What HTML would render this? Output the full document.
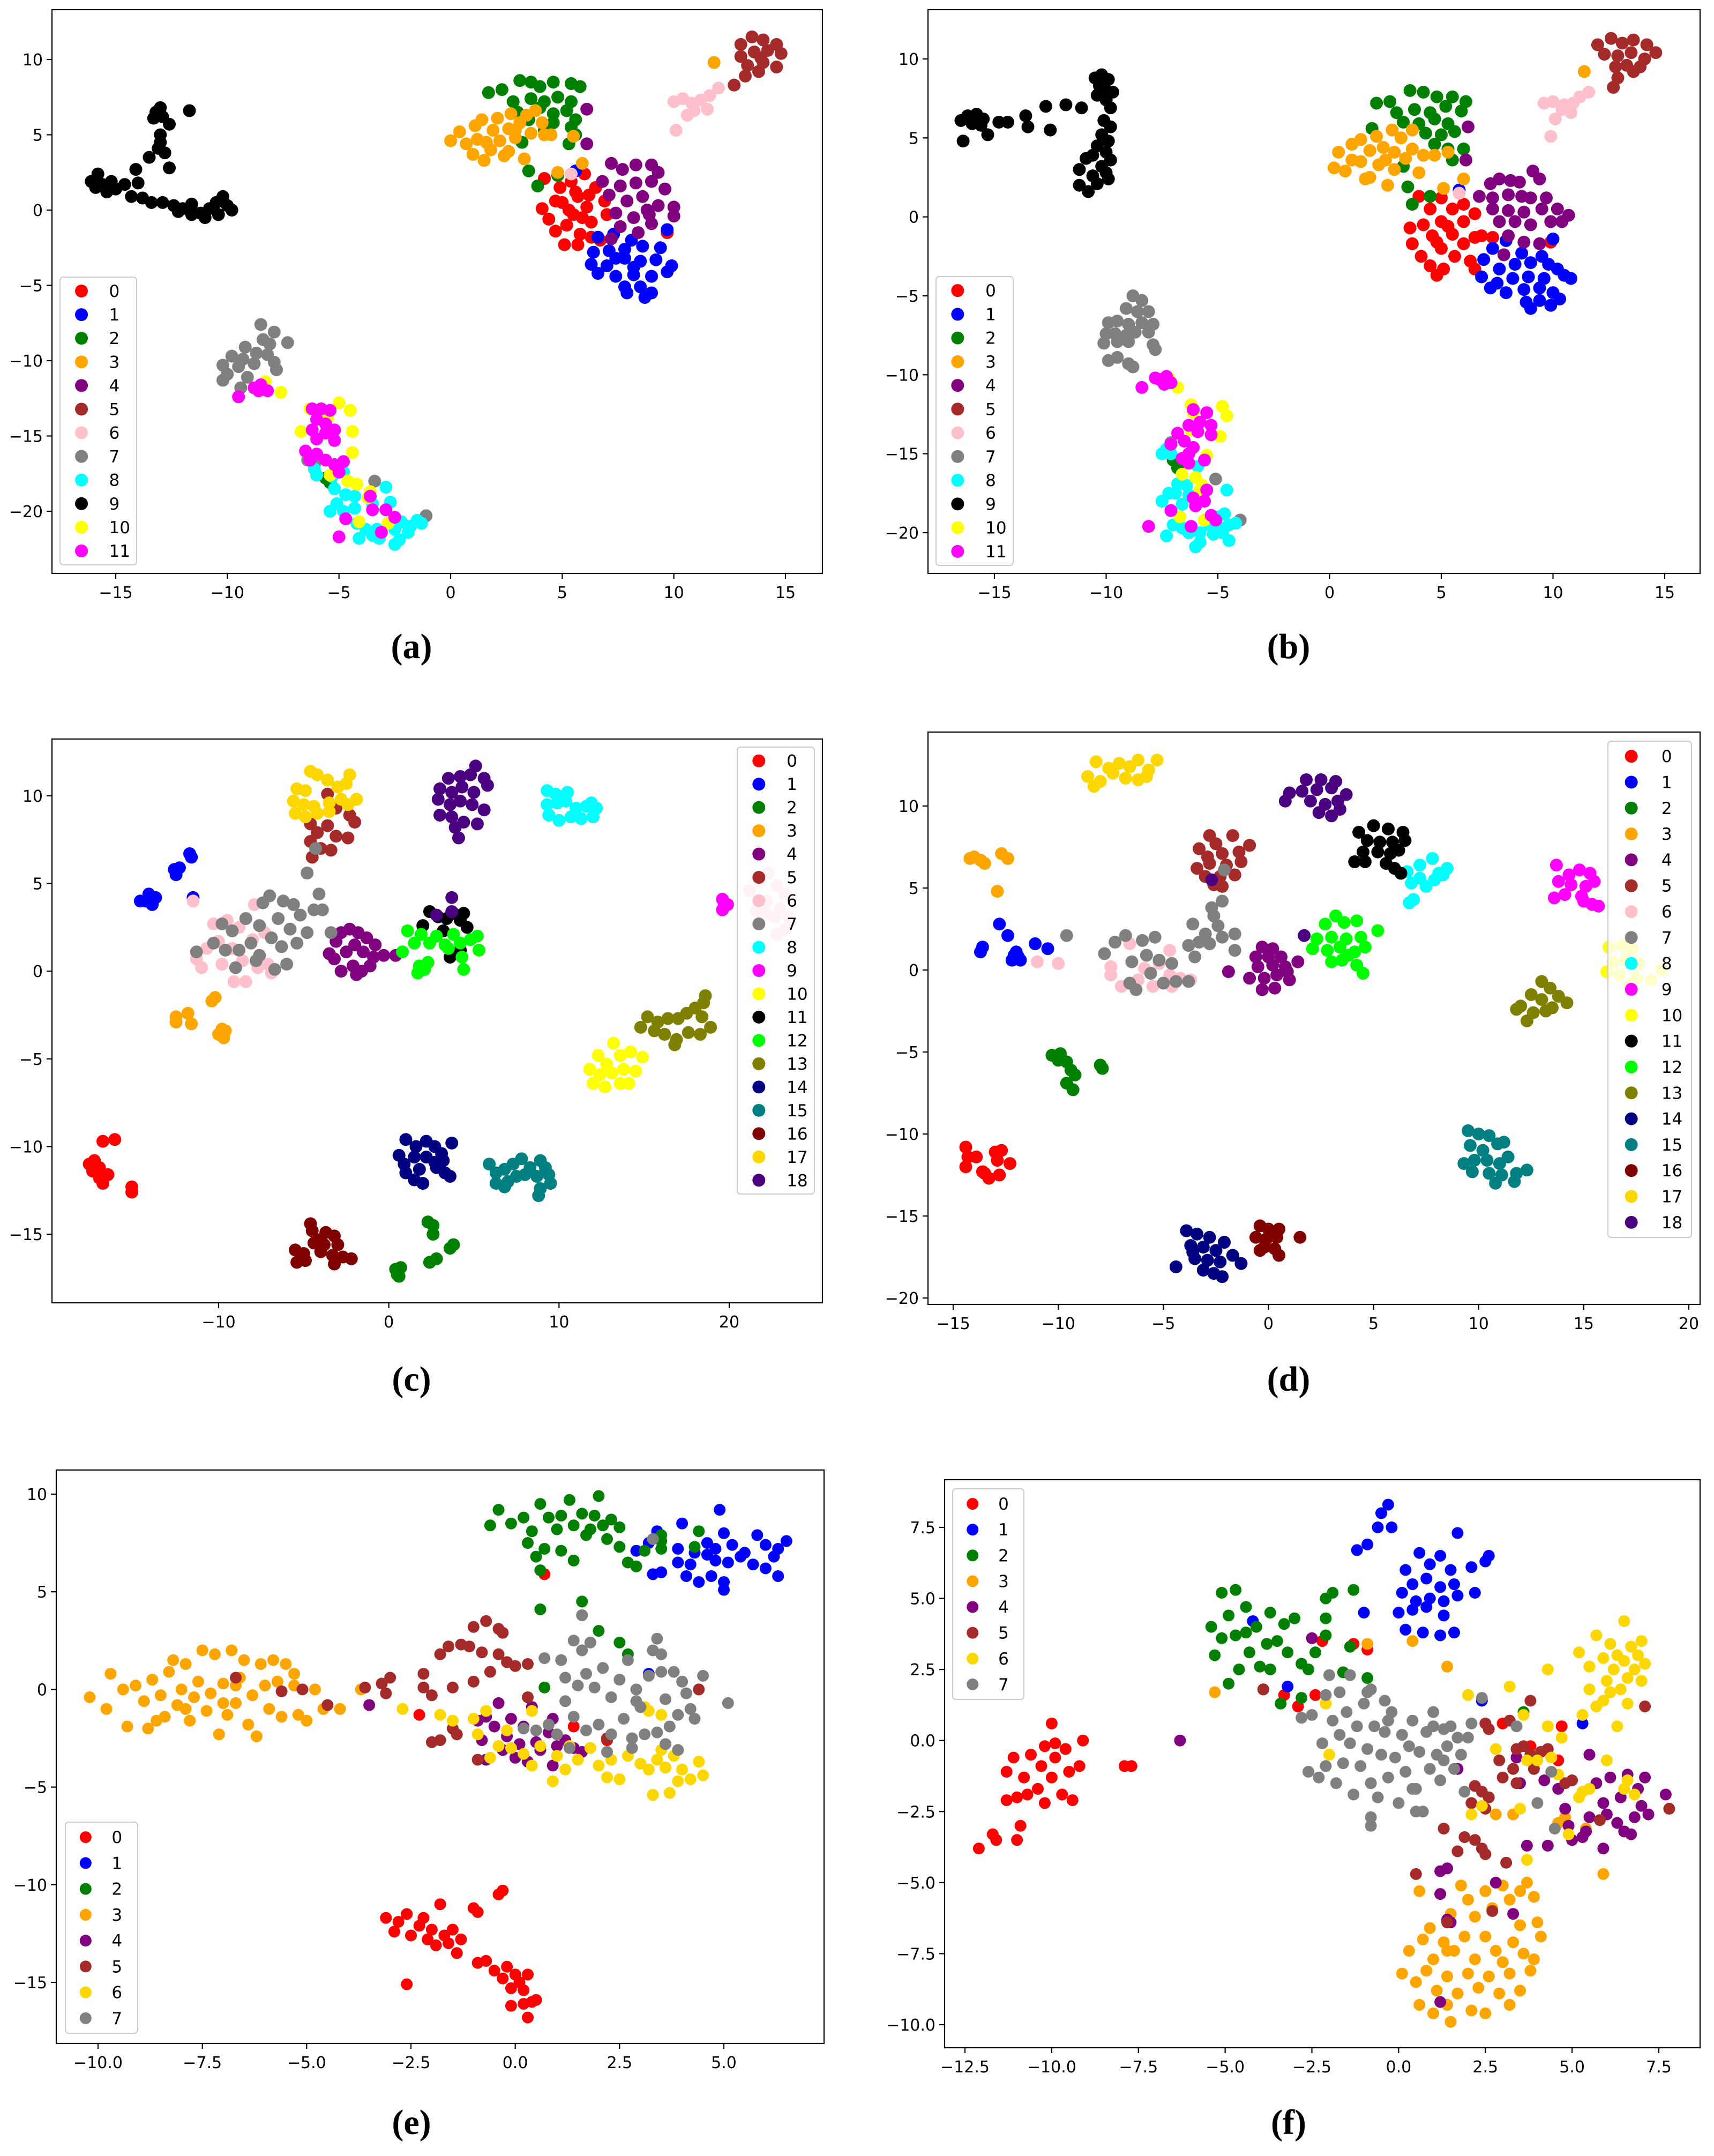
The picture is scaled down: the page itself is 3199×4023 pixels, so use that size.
<!DOCTYPE html>
<html><head><meta charset="utf-8">
<style>
html,body{margin:0;padding:0;background:#fff;}
svg{display:block;}
text{font-family:"DejaVu Sans","Liberation Sans",sans-serif;}
.cap{font-family:"Liberation Serif",serif;font-size:66px;font-weight:bold;}
</style></head>
<body>
<svg id="fig" width="3199" height="4023" viewBox="0 0 3199 4023" xmlns="http://www.w3.org/2000/svg">
<rect width="3199" height="4023" fill="#fff"/>
</svg>
<script>
// ---------- shared class colour arrays ----------
const colors12 = ["red","blue","green","orange","purple","brown","pink","gray","cyan","black","yellow","magenta"];
const colors19 = ["red","blue","green","orange","purple","brown","pink","gray","cyan","magenta","yellow","black","lime","olive","navy","teal","maroon","gold","indigo"];
const colors8 = ["red","blue","green","orange","purple","brown","gold","gray"];

// ---------- tick arrays ----------
const aXTicks=[-15,-10,-5,0,5,10,15], aYTicks=[-20,-15,-10,-5,0,5,10];
const bXTicks=[-15,-10,-5,0,5,10,15], bYTicks=[-20,-15,-10,-5,0,5,10];
const cXTicks=[-10,0,10,20], cYTicks=[-15,-10,-5,0,5,10];
const dXTicks=[-15,-10,-5,0,5,10,15,20], dYTicks=[-20,-15,-10,-5,0,5,10];
const eXTicks=[-10,-7.5,-5,-2.5,0,2.5,5], eYTicks=[-15,-10,-5,0,5,10];
const fXTicks=[-12.5,-10,-7.5,-5,-2.5,0,2.5,5,7.5], fYTicks=[-10,-7.5,-5,-2.5,0,2.5,5,7.5];

// ---------- panel (a) points per class ----------
const aPoints=[
"4.2,2.1 4.1,0.1 4.4,-0.6 4.9,1.5 5,0.5 5.2,-1 5.4,1.9 5.5,-0.3 5.7,0.9 5.8,-1.6 6,2.4 6.1,0.2 6.3,-0.8 6.5,1.5 6.7,-2 6.9,0.6 5.1,-2.3 5.7,-2.3 4.7,-1.4 6.3,-1.8 7,-0.3 9.7,-1.5 5.9,-0.5 5.3,0 5.6,1.2 6.2,1 4.7,0.6",
"6.6,-1.8 7.3,-1.6 8.1,-2 6.4,-2.8 7.1,-2.7 7.8,-2.6 8.6,-2.4 9.4,-2.5 6.3,-3.6 7,-3.7 7.8,-3.2 8.5,-3.4 9.2,-3.3 9.9,-3.7 6.6,-4.2 7.4,-4.4 8.2,-4.3 9,-4.4 9.7,-4.1 7.8,-5.1 8.5,-5.1 9,-5.5 8.7,-5.8 7.9,-5.5 9.7,-1.3 5.6,2.6 8.2,-3.8 7.4,-3.2",
"1.7,7.8 2.3,8 3.1,8.6 3.6,8.5 4,8.2 4.6,8.5 5.4,8.4 5.8,8.2 2.8,7.2 3.6,7.4 4.2,7.2 4.8,7.5 5.4,7.2 3,6.5 4,6.8 4.6,6.4 5.2,6.6 5.6,6 3.5,6 4.6,5.8 5.4,5.5 5.6,5 4.2,5.3 3.2,4.5 5.3,4.4 3.5,2.6 3.9,1.6 4.8,2.3 -5.6,-17.8 -5.4,-18.1",
"0,4.6 0.4,5.2 0.7,4.4 1.1,5.6 1.2,4.7 1.5,3.3 1.8,4 1.9,5.3 2.1,6.1 2.2,4.6 2.6,5.4 2.7,6.4 2.9,4.8 3.1,5.8 3.4,6.3 3.6,5.1 3.8,6.6 4.1,5.8 4.2,5 2.4,3.6 1.4,6 2.6,3.9 3.3,3.4 1,3.7 5.5,4.9 4.5,5 5.9,3.1 4.8,2.5 11.8,9.8 1.6,4.5 2.9,5.3",
"7.2,3.1 7.7,2.7 8.3,3 9,3 9.3,2.5 6.8,1.9 7.6,1.6 8.3,1.8 9,1.9 9.6,1.4 7.1,1 7.9,0.6 8.6,0.9 9.3,0.3 10,0.2 10,-0.4 7.4,-0.2 8.2,-0.5 8.9,-0.3 7.6,-1.1 8.4,-1.5 9,-0.9 6.1,6.7 6.1,4.4 7.2,-1.9 8.8,0",
"13,11 13.5,11.5 14,11.3 14.6,11 13,10.2 13.6,10.5 14.2,10.6 14.8,10.4 13.3,9.6 14,9.8 14.6,9.5 13.2,8.9 13.8,9.2 12.7,8.3 13.9,10.1",
"10,7.2 10.4,7.4 10.8,7.1 11.2,7.3 11.6,7.6 10.9,6.6 10.6,6.3 11.5,6.7 10.1,5.3 12,8.1 5.4,2.4",
"-8.5,-7.6 -7.9,-8.1 -8.4,-8.6 -8.1,-8.9 -7.3,-8.8 -9.2,-9.1 -8.7,-9.5 -9.8,-9.7 -9.3,-9.9 -8.2,-9.6 -10.2,-10.3 -9.5,-10.4 -8.8,-10.2 -7.9,-10.1 -7.8,-10.6 -10,-10.9 -9.1,-11.1 -10.2,-11.3 -9.4,-11.8 -6.4,-16.6 -3.4,-18 -1.1,-20.3 -6.1,-16.9",
"-6.1,-17.2 -6,-17.6 -5.3,-17.7 -4.8,-17.4 -5.2,-18.5 -4.7,-18.9 -4.3,-19 -5.1,-19.5 -5.4,-20 -4.8,-20 -4.3,-19.8 -3.5,-19.5 -2.9,-18.4 -2.7,-19.4 -4.2,-20.8 -3.8,-21.2 -3.5,-21.6 -3.3,-21.2 -2.5,-21.2 -2.3,-21.9 -2.2,-20.7 -1.8,-21 -1.5,-20.6 -1.3,-20.8 -4.1,-21.8 -3.2,-21.8 -2.5,-22.2 -1.9,-21.4",
"-13.2,6.5 -13,6.8 -12.9,6.2 -13.3,6.1 -11.7,6.6 -12.6,5.7 -13,5 -13,4.5 -13.1,4.1 -12.8,3.8 -13.5,3.5 -12.6,2.8 -14.1,2.7 -14,1.8 -16.1,1.9 -15.8,2.4 -15.6,1.7 -15.2,1.9 -15,1.4 -14.6,1.7 -15.4,1.2 -14.3,0.9 -13.8,0.8 -13.4,0.5 -12.9,0.5 -12.4,0.3 -12,0.1 -11.6,0.4 -11.2,-0.2 -10.8,0.1 -10.5,0.5 -10.2,0.9 -10,0.3 -9.8,0 -11,-0.5 -11.6,-0.3 -12.2,-0.1 -10.4,-0.3 -15.9,1.5",
"-7.6,-12.1 -8.3,-11.4 -6.7,-14.7 -5,-12.8 -4.5,-13.3 -4.4,-14.7 -4.4,-16.1 -5.4,-17.6 -4.6,-18 -4.2,-18.2 -3.6,-18.7 -3.7,-19.1 -2.8,-20.8 -4.1,-20.7 -6.3,-13.2 -5.5,-13.8",
"-8.8,-11.8 -8.5,-11.6 -8.2,-12 -8.6,-12 -9.5,-12.4 -6.2,-13.2 -5.8,-13.2 -5.4,-13.3 -6,-13.9 -5.6,-14.2 -6.2,-14.6 -5.6,-14.8 -5.2,-14.6 -6,-15.2 -5.2,-15.3 -6.5,-16 -6,-16.2 -5.6,-16.6 -5.2,-16.9 -4.8,-16.7 -6.3,-16.6 -5,-17.4 -3.6,-19 -3.5,-19.9 -2.9,-19.9 -2.5,-20.4 -3.1,-21.4 -4.7,-20.5 -5,-21.7"
];

// ---------- panel (b) ----------
const bPoints=[
"3.6,-0.7 3.7,-1.7 4.2,-0.5 4.1,-2.5 4.5,0.5 4.6,-1.2 4.5,-3.1 5,1.2 5,-0.3 5,-2 5.1,-3.3 5.5,0.5 5.5,-1.1 5.6,-2.5 6,0.8 6,-0.3 6,-1.7 6.3,-2.8 6.5,0.2 6.5,-1.3 6.8,-1.2 4,1.3 6.5,-3.3 9.9,-1.6 7.3,-1.3 4.8,-3.7 5.3,-0.6 4.8,-1.6",
"7.3,-2 7.9,-1.5 8.6,-2.3 9.5,-2.5 6.9,-2.7 7.6,-3.3 8.3,-3 9,-2.9 9.8,-3 10.2,-3.3 6.8,-3.8 7.5,-4.2 8.2,-3.9 8.9,-3.8 9.6,-3.9 10.5,-3.7 10.8,-3.9 7.2,-4.5 7.9,-4.8 8.7,-4.6 9.4,-4.5 10,-4.8 8.8,-5.4 9.4,-5.3 9.9,-5.6 10.3,-5.2 9,-5.8 10,-1.4 5.8,1.7",
"2.1,7.2 2.7,7.3 3.6,8 4.2,7.9 4.8,7.6 5.5,7.6 6.1,7.3 3,6.6 3.8,6.8 4.5,6.6 5.2,7 5.9,6.7 3.3,6 4,5.9 4.7,6.2 5.3,5.9 4.3,5.3 5,5.2 5.6,5.4 4.7,4.6 5.3,4.3 6,4.3 5.5,3.6 3.3,3.2 1.9,5.6 3.5,1.9 3.7,0.8 4.5,1.3 -7,-15.4 -6.8,-15.9",
"0.2,3.1 0.4,4.1 0.7,2.9 1,3.6 1,4.6 1.4,4.9 1.4,3.5 1.8,4.2 1.8,2.5 2.1,5.1 2.2,3.3 2.4,4.4 2.6,2 2.8,5.5 2.9,4.1 2.9,3 3.2,5 3.4,3.7 3.7,5.5 3.7,4.3 4,2.8 4.2,3.9 4.7,3.9 5.3,4.1 6,2.4 5.1,1.8 11.4,9.2 1.6,2.4 2.5,3.6",
"7.2,2.1 7.6,2.4 8.1,2.3 8.5,2.2 9.1,2.9 9.4,2.4 6.7,1.3 7.3,1.2 8,1.4 8.6,1.3 9,1.2 9.7,1.2 7.3,0.5 8,0.4 8.7,0.3 9.5,0.5 10.2,0.5 10.7,0.1 7.6,-0.3 8.3,-0.3 9,-0.5 9.9,-0.3 10.4,-0.3 8,-1.2 8.7,-1.6 9.4,-1.7 7.8,-2.4 6.2,5.7 6.1,3.6",
"12,10.9 12.6,11.3 13.1,11 13.6,11.2 14.2,10.9 14.6,10.4 12.3,10.3 12.9,10.2 13.5,10.4 14.1,10 12.8,9.5 13.3,9.6 13.9,9.5 12.9,8.8 13.6,9.2 12.7,8.2",
"9.6,7.2 10,7.3 10.5,7.1 10.9,7.2 11.2,7.6 10.4,6.8 10.8,6.6 10.1,6.2 11.6,7.9 9.9,5.1 5.8,1.5",
"-8.8,-5 -8.4,-5.3 -9.1,-5.8 -8.6,-6 -8.1,-6 -9.9,-6.7 -9.5,-6.6 -9,-6.8 -8.4,-6.7 -7.9,-6.8 -10,-7.4 -9.6,-7.4 -9.1,-7.5 -8.7,-7.3 -8.1,-7.3 -10.1,-8 -9.5,-7.9 -9,-7.9 -7.9,-8.1 -7.8,-8.4 -9.9,-9.1 -9.5,-8.9 -9,-9.3 -8.8,-9.5 -7.1,-14.3 -5.1,-16.6 -4,-19.2",
"-7.3,-14.7 -7.1,-15 -6.8,-16.9 -6.4,-17 -6.9,-17.5 -6.3,-17.6 -7.2,-17.5 -7.5,-18 -7.1,-18.6 -6.6,-18.2 -7,-19.5 -6.6,-19.7 -6.3,-20 -5.8,-20 -5.4,-19.5 -5,-19 -4.7,-18.8 -4.5,-19.5 -4.9,-19.7 -5.2,-20.1 -4.5,-20.5 -4.8,-20 -4.2,-19.4 -6,-20.9 -5.8,-20.6 -7.3,-20.2 -4.6,-17.3 -5.9,-15.8 -7.5,-15",
"-16.5,6.1 -16.2,6.4 -15.8,6.5 -15.5,6.2 -16,5.9 -15.6,5.8 -16.4,4.8 -15.3,5.2 -14.8,6 -14.4,6 -13.6,6.4 -13.5,5.7 -12.7,7 -12.5,5.5 -11.8,7.1 -11.1,6.9 -10.5,8.8 -10.2,9 -9.9,8.7 -10.3,8.3 -10,8 -9.7,7.9 -10.4,7.7 -10,7.4 -9.8,6.9 -10.1,6.1 -9.8,5.7 -10.2,5.2 -9.9,4.8 -10.4,4.5 -10,4.1 -9.8,3.6 -10.6,3.9 -10.9,3.7 -10.2,3.2 -11.2,3 -10.6,2.6 -10,2.8 -11.2,2 -10.8,1.6 -10.4,2.1 -9.9,2.4",
"-7.2,-10.2 -6.8,-10.8 -6.2,-11.9 -6.1,-12.4 -4.8,-12 -4.6,-12.6 -4.9,-13.9 -5.5,-15.1 -6.6,-16.3 -6,-16.5 -5.8,-17.3 -5.7,-17 -6.7,-19 -5.6,-19.2 -6.2,-13.5",
"-8.4,-10.8 -7.6,-10.3 -7.3,-10.1 -7.1,-10.5 -7.4,-10.6 -7.8,-10.2 -6.1,-12.2 -5.5,-12.4 -5.8,-13 -5.3,-13.2 -6.3,-13.2 -5.9,-13.6 -5.3,-13.8 -6.8,-13.7 -6.5,-14.2 -7.1,-14.4 -6.1,-14.6 -6.3,-15 -6.6,-15.3 -6.3,-15.6 -5.6,-15.4 -6.1,-17.8 -6,-18.3 -5.5,-17.3 -7.1,-18.6 -5.3,-18.9 -5.1,-19.2 -6.2,-19.6 -8.1,-19.6 -5.6,-18"
];

// ---------- panel (c) ----------
const cPoints=[
"-16.8,-9.7 -16.1,-9.6 -17.6,-11 -17.3,-10.8 -17.4,-11.4 -17,-11.2 -17,-11.8 -16.8,-12.1 -16.5,-11.6 -15.1,-12.3 -15.1,-12.6",
"-14.1,4.4 -14.3,4 -13.9,3.8 -13.7,4.2 -14.6,4 -12.6,5.8 -12.3,5.9 -12.5,5.5 -11.7,6.7 -11.6,6.5 -11.5,4.2",
"0.4,-17 0.6,-17.4 0.7,-16.9 0.5,-17.3 2.3,-14.3 2.6,-14.5 2.6,-15 2.4,-16.6 2.8,-16.4 3.6,-15.8 3.8,-15.6",
"-12.5,-2.6 -12.5,-2.9 -11.8,-2.4 -11.6,-3 -10.4,-1.7 -10.2,-1.5 -9.8,-3.3 -10,-3.6 -9.6,-3.4 -9.7,-3.8",
"-3.5,1 -3.1,1.7 -2.8,2.2 -2.3,2.4 -1.8,2.2 -1.3,1.9 -0.8,1.5 -3.2,0.7 -2.5,1.1 -2,1.5 -1.5,1.1 -0.9,0.8 -0.3,0.9 0.4,0.9 -2.8,0 -2.1,0.3 -1.6,0 -1.1,0.3 -1.9,-0.2",
"-3.6,10.1 -3.1,9.3 -2.3,8.9 -2,8.5 -4.6,8.4 -4.2,7.9 -3.6,8.3 -4.6,7.4 -4,7 -3.1,7.7 -2.4,7.6 -3.4,6.9 -4.5,6.5 -2.8,9.7",
"-11.5,4 -11.3,0.7 -10.7,1.3 -11,0.2 -10.3,2.7 -10,1.7 -9.8,0.4 -9.5,2.9 -9.2,1.3 -9.1,-0.6 -8.8,2.5 -8.6,0.6 -8.4,-0.6 -8,1.8 -7.9,3.8 -7.7,0.2 -7.3,2.2 -7.1,0.4 -6.9,-0.1 21.2,4.6 21.8,5.1 22.3,5.6 22.8,4.9 23.3,4.4 21.6,3.4 22.2,4 22.7,3.1 23,3.6 23.3,2.4 22.8,2.1 23.5,3.1 22.1,3.3",
"-11.3,1.1 -10.3,1.6 -9.8,2.7 -9.6,1.2 -9.2,2.3 -9,0.2 -8.8,1.2 -8.4,3 -8.1,1.6 -7.8,0.6 -7.6,2.6 -7.4,3.9 -7,4.3 -6.9,1.9 -6.7,0.1 -6.5,3 -6.3,1.4 -6,0.4 -5.8,2.4 -5.6,3.8 -5.4,1.6 -5.2,3.2 -4.8,2.2 -4.4,3.5 -4.1,4.4 -3.9,3.5 -3.4,2.2 -4.8,5.6 -4.3,7 -7.6,0.9 -6.2,4",
"9.3,10.3 9.8,10.1 10.5,10.2 9.3,9.5 9.9,9.6 10.4,9.7 11,9.3 11.6,9.4 12.2,9.3 9.4,8.9 10,8.6 10.7,8.8 11.3,8.7 12,8.8 11.9,9.6",
"19.6,4.1 19.7,3.7 19.6,3.5 19.9,3.8",
"12.3,-4.8 12.8,-5.3 13.2,-4.1 13.6,-4.8 14.2,-4.6 14.9,-4.9 11.8,-5.6 12.4,-5.9 13.1,-5.8 13.8,-5.6 14.5,-5.7 12,-6.4 12.7,-6.6 13.6,-6.4 14.1,-6.4",
"2,2.6 2.4,3.4 2.9,3.1 3.4,3 3.8,3.3 4.2,2.9 4.6,2.5 4.4,3.3 3.2,2.3 4.2,1.2 3.6,0.8",
"0.8,1.1 1.1,2.3 1.5,1.6 1.9,2.1 2.4,1.6 2.8,2 3.3,1.5 3.8,2.1 4.2,1.6 4.8,1.8 5.2,2 5.3,1.2 4.3,0.8 4.4,0.1 3.5,1.3 1.8,0.3 2.1,0.1 2.3,0.5 1.7,-0.1",
"14.8,-3.2 15.2,-2.6 15.8,-2.9 16.4,-2.7 17,-2.7 17.5,-2.4 18,-2.1 18.4,-2.6 18.6,-1.4 18.5,-1.8 15.6,-3.4 16.2,-3.6 16.9,-3.9 17.6,-3.5 18.3,-3.6 18.9,-3.2 16.8,-4.2",
"0.6,-10.5 1,-9.6 1.6,-10 2.2,-9.7 2.7,-10 3.1,-10.4 3.7,-9.8 0.9,-11 1.5,-10.6 2.2,-10.6 2.7,-10.9 3.2,-10.8 1,-11.5 1.5,-11.9 2,-12.1 1.8,-11.3 3.3,-11.5 3.6,-11.7 2.8,-11.2",
"5.9,-11 6.3,-11.5 6.8,-11.3 7.3,-11 7.8,-10.7 8.3,-11.2 8.9,-10.8 6.3,-12.1 7,-12 7.5,-11.7 8,-11.6 8.7,-11.7 9.4,-11.6 9.5,-12.1 8.9,-12.4 8.8,-12.8 6.8,-12.3 9.2,-11.2",
"-4.6,-14.4 -4.5,-14.8 -3.7,-14.9 -3.2,-15.1 -4.4,-15.5 -3.8,-15.6 -3,-15.6 -5.5,-15.9 -5,-16.1 -4,-16 -3.3,-16.2 -2.7,-16.3 -2.2,-16.4 -5.4,-16.6 -4.9,-16.5 -3.2,-16.7 -4,-15.3",
"-4.6,11.4 -4.2,11.2 -3.6,10.9 -2.3,11.2 -5.4,10.4 -4.9,10.3 -3,10.5 -2.5,10.7 -5.6,9.7 -5,9.5 -4.4,9.4 -3.5,9.6 -2.8,9.8 -1.9,9.8 -5.5,9 -4.9,8.8 -4.2,9 -3.5,9.1 -2.4,9.5",
"5.1,11.7 3.5,11 4.2,11.1 4.8,11.2 5.6,11 3,10.4 3.7,10.2 4.3,10.5 5,10.2 5.8,10.6 2.9,9.8 3.6,9.5 4.2,9.7 4.9,9.5 5.6,9.2 3,8.9 3.7,8.8 4.4,8.5 5.2,8.4 4.1,7.6 3.9,8.2 3.7,4.2 3.7,3.4 2.8,3.2"
];

// ---------- panel (d) ----------
const dPoints=[
"-14.4,-10.8 -14.3,-11.4 -14.4,-12 -13.9,-11.4 -13.6,-12.3 -13.3,-12.7 -13,-11.1 -12.9,-11.6 -12.8,-12.5 -12.3,-11.8 -13.5,-12.4 -12.7,-11",
"-13.7,1.1 -13.6,1.4 -12.1,0.9 -11.9,0.8 -12.2,0.6 -12,1.1 -11.8,0.6 -12.8,2.8 -12.4,2.1 -11.1,1.6 -10.5,1.3",
"-10.3,-5.2 -9.9,-5.1 -10,-5.5 -9.6,-5.6 -9.4,-6.1 -9.2,-6.4 -9.6,-6.9 -9.3,-7.3 -8,-5.8 -7.9,-6",
"-14,6.9 -13.7,6.7 -13.5,6.5 -12.7,7.1 -12.4,6.8 -12.9,4.8 -14.2,6.8",
"-0.3,1.4 0.2,1.3 -0.6,0.8 0,0.8 0.6,0.8 -0.5,0.2 0.2,0.3 0.8,0.2 1.4,0.5 -0.9,-0.5 -0.2,-0.5 0.4,-0.3 1,-0.6 -0.3,-1.2 0.3,-1.1 -1.9,-0.1 0.9,-0.1",
"-2.8,8.2 -3.3,7.4 -2.5,7.7 -1.7,8.2 -2.9,6.9 -2.2,7.1 -1.4,7.2 -0.9,7.6 -3.4,6.2 -2.8,6.5 -2,6.4 -1.3,6.6 -3,5.7 -2.3,5.7 -1.6,5.8 -2.2,5.1 -2.6,5.2",
"-11,0.5 -10,0.4 -7.5,-0.3 -7.5,0.2 -6.6,1.6 -6.2,-0.6 -5.9,0.1 -5.2,0.4 -4.7,-0.3 -4.2,-0.5 -4.6,-1 -5.5,-1 -7,-1 -4.7,1.2 -3.7,-0.6",
"-9.6,2.1 -7.8,1 -7.3,1.7 -6.8,2.1 -6.5,0.5 -6.6,-0.8 -6.3,-1.2 -6,1.8 -5.8,0.9 -5.6,-0.2 -5.4,2 -5.2,0.6 -5,-0.8 -4.6,0.4 -4.4,-0.7 -3.8,1.5 -3.6,2.8 -3.3,1.7 -3.5,0.8 -3.8,-0.7 -3,2.2 -2.6,3.3 -2.2,4.2 -2.2,2 -1.6,2.2 -1.6,1.2 -2.4,2.7 -2.1,6.1 -2.7,3.8 -2.8,1.6",
"6.6,6 7.2,6.4 7.8,6.8 8.5,6.2 7.2,5.6 7.9,5.5 8.3,5.8 6.8,5.3 7.5,5.1 6.9,4.3 6.7,4.1 8.1,5.9",
"13.7,6.4 14.3,5.8 14.8,6.1 15.3,5.9 13.8,5.4 14.4,5.2 15.1,5.1 15.5,5.4 13.6,4.4 14.1,4.6 14.9,4.5 15.4,4 15.7,3.9 15,4.2",
"16.2,1.4 16.8,1.5 17.3,1.3 16.4,0.5 17,0.6 17.6,0.4 16.1,-0.1 16.7,-0.3 17.5,-0.5 18.2,-0.6 18.7,0 17.2,-0.9",
"4.3,8.4 5,8.8 5.7,8.6 6.4,8.4 4.7,7.9 5.3,7.8 5.9,7.8 6.5,7.9 4.5,7.2 5.2,7.2 5.8,7.1 6.2,7.3 4.1,6.6 4.6,6.6 5.6,6.5 6,6.2 6.3,5.9",
"3.2,3.3 2.7,2.8 3.6,2.9 4.2,3 5.2,2.4 2.3,1.9 3,2 3.7,1.9 4.4,2 2.1,1.3 2.8,1.2 3.4,1.4 4.1,1.1 4.6,1.4 3,0.5 3.5,0.6 4.2,0.3 4.5,-0.2 3.8,0.9",
"13,-0.7 13.4,-1.1 13.8,-1.6 14.2,-2 12.5,-1.5 13,-1.8 13.5,-2.3 12,-2.2 12.6,-2.6 13.2,-2.5 12.3,-3.1 11.8,-2.4",
"-4.4,-18.1 -3.9,-15.9 -3.4,-16.1 -2.8,-16.3 -2.1,-16.6 -3.7,-16.8 -3.1,-16.9 -2.5,-17.1 -1.7,-17.4 -3.5,-17.6 -2.9,-17.7 -2.3,-17.8 -1.3,-17.9 -3.1,-18.3 -2.6,-18.5 -2.2,-18.7 -3.6,-17.2",
"9.5,-9.8 10,-10 10.5,-10.1 9.6,-10.7 10.2,-11 10.9,-10.6 11.2,-10.5 9.3,-11.8 9.8,-11.6 10.4,-11.6 11,-11.8 11.4,-11.4 9.7,-12.3 10.5,-12.4 11.1,-12.5 11.8,-12.4 12.3,-12.2 11.7,-12.9 10.8,-13",
"-0.4,-15.6 0,-15.8 0.5,-15.8 -0.6,-16.3 -0.1,-16.4 0.4,-16.3 1.5,-16.3 -0.2,-16.9 0.3,-17 0.5,-17.4 -0.4,-17.1",
"-8.2,12.7 -7.6,12.3 -7.1,12.6 -6.6,12.4 -6.2,12.8 -5.7,12.2 -5.3,12.8 -8.6,11.8 -8,11.5 -7.4,12 -6.8,11.7 -6.2,11.6 -5.8,11.8 -8.3,11.2",
"1.8,11.6 2.5,11.6 3.2,11.5 1,10.8 1.6,10.9 2.3,11 3,11.1 3.7,10.7 2,10.3 2.7,10.1 3.3,10.3 2.4,9.6 3,9.4 3.4,9.8 -2.7,5.5 1.7,2.1 0.8,10.3"
];

// ---------- panel (e) ----------
const ePoints=[
"-2.3,-1.3 0.7,5.9 1.4,-1.9 2.2,-2.6 -3.1,-11.7 -2.9,-12.4 -2.8,-11.9 -2.6,-11.5 -2.5,-12.6 -2.3,-12.1 -2.2,-11.7 -2.1,-12.8 -2,-12.3 -1.9,-13.1 -1.8,-11 -1.7,-12.6 -1.6,-13 -1.5,-12.3 -1.4,-13.5 -1.3,-12.8 -1,-11.2 -0.9,-11.4 -0.9,-14 -0.7,-13.9 -0.5,-14.4 -0.4,-10.5 -0.3,-10.3 -0.3,-14.8 -0.2,-14.2 -0.1,-15.3 0,-14.6 0.1,-15 0.2,-15.4 0.3,-14.6 -0.1,-16.2 0.2,-16.1 0.4,-16 0.5,-15.9 0.3,-16.8 -2.6,-15.1",
"3.2,7.5 3.4,8.1 3.9,7.2 4,8.5 4.3,7 4.6,7.5 4.8,7.2 5,8 5.2,7.4 5.5,7 5.8,7.9 6,7.4 6.3,7.2 6.5,7.6 3.9,6.5 4.2,6.4 4.6,6.9 4.8,6.6 5.1,6.5 5.4,6.8 5.7,6.4 6,6.2 6.2,6.8 3.3,5.9 3.5,6 4.1,5.8 4.4,5.5 4.7,5.8 5,5.1 5,5.5 6.3,5.8 4.9,9.2 3.2,0.8 2.9,7.1",
"-0.6,8.4 -0.4,9.2 -0.1,8.5 0.2,8.8 0.4,8.1 0.6,9.5 0.8,8.8 1,8.2 1.1,8.9 1.3,9.7 1.4,8.4 1.6,9 1.8,8.2 1.9,8.9 2,9.9 2.1,8.4 2.3,8.7 2.5,8.3 0.3,7.5 0.5,6.8 0.7,7.2 1.1,7.1 1.4,6.6 1.7,7.9 2.2,7.7 2.5,7.3 2.9,6.3 2.7,6.5 3.1,7.1 3.5,7.6 3.5,7.2 4.3,7.3 4.4,8.1 0.6,6.1 0.6,4.1 1.6,4.5 1.6,3.8 2,3 2.5,2.4 2.7,1.8 0.7,0.1 3.5,7.9",
"-10.2,-0.4 -9.8,-1 -9.7,0.8 -9.4,0 -9.3,-1.9 -9.1,0.2 -8.9,-0.6 -8.8,-2 -8.7,0.5 -8.5,-0.3 -8.4,-1.4 -8.3,0.9 -8.1,-0.8 -8,0 -7.9,1.3 -7.8,-1.6 -7.7,-0.4 -7.6,0.4 -7.5,2 -7.4,-1.1 -7.3,-0.2 -7.2,1.8 -7.1,-2.3 -7,0.3 -6.9,-1.3 -6.8,2 -6.7,-0.7 -6.6,0.6 -6.5,1.5 -6.4,-1.8 -6.3,-0.3 -6.2,-2.4 -6.1,1.3 -6,0.2 -5.9,-1 -5.8,1.5 -5.7,0.4 -5.6,-1.4 -5.5,1.3 -5.3,0.8 -5.2,-1.3 -5,-1.6 -4.8,0 -4.6,-1 -4.2,-1 -3.7,0 -8.2,1.5 -7.9,-1 -8.6,-1.6 -7,-0.7 -6.7,0.2 -5.3,0.2",
"-0.9,-1.6 -0.8,-2.6 -0.7,-1.4 -0.5,-1.9 -0.4,-0.7 -0.3,-3.1 -0.2,-2.4 -0.1,-1.5 0,-3.5 0.1,-2.8 0.2,-1.9 0.3,-3.7 0.4,-0.9 0.5,-2.7 0.6,-3.1 0.8,-2.2 0.9,-3.9 1,-2.9 1.2,-2.6 1.4,-3 1.6,-3.2 -3.5,-0.8 -0.7,-3.6 0.9,-1.5",
"-6.7,0.6 -5.6,-0.1 -5.1,0 -4.5,-0.8 -3.6,0.1 -3.2,0.3 -3,0.6 -3.1,-0.2 -2.2,0.8 -2.2,0.1 -2,-0.3 -1.8,1.8 -1.6,2.2 -1.3,2.3 -1.1,2.2 -0.8,1.9 -1,3.2 -0.7,3.5 -0.4,3.1 -0.3,2.9 -0.4,1.8 -0.2,1.4 0,1.2 0.3,1.3 -0.6,0.9 -1.5,0.1 -1,0.4 -2,-2.7 -1.8,-2.6 -1.5,-2 -1.4,-2.3 -0.9,-3.6 0.3,-0.4 2.2,-2.5 4.4,0",
"-2.7,-1 -1.8,-1.3 -1.5,-1.6 -1,-1.5 -0.9,-2.3 -0.7,-1.1 -0.4,-2.9 -0.2,-2.1 -0.1,-3 0.2,-3.3 0.4,-1.1 0.4,-3.9 0.6,-2.9 0.9,-4.7 1,-3.4 1.3,-2.9 1.5,-3.6 1.8,-3 2,-3.9 2.3,-3.6 2.5,-4.6 2.7,-3.4 3,-3.8 3.2,-1.1 3.2,-4.1 3.4,-3.6 3.5,-1.3 3.5,-3.1 3.6,-4 3.8,-3.4 4,-4.1 4.2,-4.6 4.4,-3.7 4.5,-4.4 3.3,-5.4 3.7,-5.3 3.9,-4.7 2.2,-4.5 1.2,-4.1 3.1,-0.9 -0.6,-3.5",
"0.7,1.6 1.1,1.5 1.4,2.5 1.6,2 1.8,2.4 1.2,0.6 1.5,0.2 1.7,0.8 1.9,0.1 2.1,1.1 2.3,-0.4 2.5,0.5 2.7,1.5 2.9,0 3,-0.9 3.2,0.7 3.3,2 3.4,2.6 3.5,0.9 3.6,-0.5 3.8,0.9 3.9,-1.3 4,0.4 4.1,-0.2 4.2,-1 4.3,-1.5 4.5,0.7 5.1,-0.7 1.2,-0.6 1.4,-1.4 1.7,-2.1 2,-1.8 2.3,-2.3 2.6,-1.5 2.8,-2.5 3.1,-2.3 3.4,-2.2 3.6,-2.8 3.9,-3.1 1,-2.3 0.5,-2.1 0.2,-2 0.8,-1.8 1.3,-3 2.8,-3 2.2,-3.2 3.3,7.7 1.6,3.8 3.5,1.8 2.9,-0.6 3.7,-1.9"
];

// ---------- panel (f) ----------
const fPoints=[
"-12.1,-3.8 -11.7,-3.3 -11.6,-3.5 -11,-3.5 -10.9,-3 -11.3,-2.1 -11,-2 -10.7,-1.9 -11.3,-1.1 -11.1,-0.6 -10.8,-1.3 -10.6,-0.5 -10.4,-1.7 -10.3,-0.9 -10.2,-0.2 -10,-1.3 -10,0.6 -9.9,-0.6 -9.7,-1.9 -9.6,-0.3 -9.5,-1.1 -9.2,-0.9 -9.1,0 -9.4,-2.1 -9.9,-0.1 -10.2,-2.2 -7.9,-0.9 -7.7,-0.9 -2.2,3.5 -1.3,3.4 -0.9,3.2 -2.4,1.6 -3.3,1.6 -2.9,1.2 3,0.6 3.8,-0.2 4.6,-0.7 4.7,0.5",
"-0.3,8.3 -0.5,8 -0.6,7.5 -0.2,7.5 -1.2,6.7 -0.9,6.9 1.7,7.3 0.2,6 0.6,6.6 0.9,6.2 1.2,6.5 1.5,6 0.4,5.5 0.8,5.7 1.2,5.4 1.6,5.5 0.1,5.2 0.5,4.9 0.9,5 1.3,4.9 1.7,5.1 0,4.5 0.4,4.6 0.8,4.7 1.3,4.4 0.2,3.9 0.7,3.8 1.2,3.7 1.6,3.8 2.2,5.2 2.1,6.1 2.6,6.5 2.5,6.3 -1,4.5 -3.2,1.9 -4.2,4.2 5.3,0.6 2.4,1.4",
"-5.4,4 -5.1,5.2 -4.7,5.3 -5.3,3 -5.1,3.6 -4.9,4.4 -4.7,3.7 -4.6,2.5 -4.4,4.7 -4.3,3.1 -4.1,4 -4,2.6 -3.8,3.4 -3.7,4.5 -3.5,3.5 -3.3,4.1 -3.2,3.1 -3,4.3 -2.8,2.7 -2.6,2.5 -2.4,3.1 -2.1,3.7 -2.1,5 -1.9,5.2 -2.1,4.3 -1.3,5.3 -3.7,2.5 -4.9,2 -3.4,1.3 -2.8,1.5 -1.4,3.3 -1.6,2.4 -0.9,2.2 -4.4,3.8 -3.9,1.8 3.6,1",
"-5.3,1.7 -0.9,3.4 0.4,3.5 1.4,2.6 0.6,-5.3 0.9,-6.6 1.2,-5.4 1.5,-6.1 1.8,-5.1 2,-5.6 2.2,-6.2 2.5,-5.3 2.7,-5.9 3,-5.1 3.2,-5.6 3.5,-5.3 3.7,-5 3.9,-5.5 4,-6.4 0.3,-7.4 0.7,-7 1,-7.7 1.3,-7.1 1.6,-7.4 1.9,-6.9 2.2,-7.7 2.5,-6.9 2.8,-7.4 3,-7.8 3.3,-7.1 3.6,-7.5 3.9,-7.7 0.1,-8.2 0.5,-8.5 0.8,-8.1 1.1,-8.8 1.4,-8.3 1.7,-8.9 2,-8.2 2.3,-8.7 2.6,-8.3 2.9,-8.9 3.2,-8.2 3.5,-8.8 3.8,-8.1 0.6,-9.3 1,-9.6 1.4,-9.3 1.5,-9.9 2.1,-9.5 2.5,-9.6 3.2,-9.3 3.5,-6.5 4.1,-6.9 5.9,-4.7 2.8,-2.6 3.3,-2.6 4.6,-2.9 4.8,-2.7 1.4,-7.4 5.4,-3.1",
"-6.3,0 -2.5,3.6 1.7,-1 1.4,-4.5 1.2,-4.6 1.2,-5.4 1.4,-6.3 2.8,-5 3.3,-6.1 3.7,-3.7 4.3,-3.7 3.5,-1.5 3.4,-0.6 4.2,-1.4 4.6,-1.7 4.8,-2.4 4.9,-3 5,-3.5 5.3,-3.4 5.5,-2.7 5.7,-1.5 5.9,-2.2 6,-2.6 6.1,-1.3 6.3,-2.9 6.4,-2 6.6,-1.2 6.8,-2.7 6.9,-1.7 7,-2.3 7.1,-1.3 7.2,-2.6 7.7,-1.9 6.5,-3.2 5.9,-3.8 5.4,-3.2 6.7,-3.3 5.5,-0.5 1.5,-6.4 1.2,-9.2",
"-3.9,1.8 2.2,-1.6 2.4,-1.8 2.6,-2 2.5,-2.4 2.1,-2.2 2.9,-0.7 3,-1.3 3.3,-1 3.4,-0.3 3.6,-0.2 3.8,-0.5 3.9,-1 4.1,-0.4 4.3,-0.3 2.6,0.4 3.2,0.7 3.4,-1.5 4.8,-1.5 5,-1.4 7.1,1.2 7.8,-2.4 5.8,-2.8 1.7,-3.9 1.3,-3.1 2.2,-3.5 2.4,-3.8 2.5,-4 1.9,-3.4 1.4,-6.4 2.7,-6 0.5,-4.7 3.1,-4.3 3.8,1.4 2.5,0.6",
"5.2,3.1 5.5,2.6 5.7,3.7 5.9,2.9 6,2.1 6.1,3.4 6.2,2.5 6.3,3 6.4,1.8 6.5,2.8 6.6,2.2 6.7,3.3 6.8,2.5 6.9,3 7,2.1 7.1,2.7 7,3.5 5.5,1.8 5.7,1.2 5.3,0.9 5.9,1.4 6.1,1.7 6.3,0.5 6.5,4.2 6.6,1.3 6.8,-1.9 6.6,-1.4 6,-0.7 5.3,-1.8 5.2,-2 4.9,-3.3 4.4,-0.6 4.3,0.5 4.7,0.1 4,-0.7 3.6,0.9 3.2,1.9 2.8,-0.3 2.4,-2.3 2.1,-2.6 3.5,-2.4 3.7,-4.2 -2.1,1.3 -2,-0.5 2,1.6 4.3,2.5 3.7,-0.7 4.6,-1.2 5.5,-1.7 6.5,-1.7",
"-2.6,-1.1 -2.3,-1.3 -2.2,-0.1 -2.1,-0.9 -1.9,0.7 -1.8,-1.5 -1.7,0.2 -1.6,-0.8 -1.5,1 -1.4,-0.1 -1.3,-1.9 -1.2,0.5 -1.1,-0.9 -1,1.3 -0.9,-0.3 -0.8,-1.5 -0.7,0.5 -0.6,-2 -0.5,-0.5 -0.4,0.3 -0.3,-1.3 -0.2,1 -0.1,-0.6 0,-2.2 0.1,0.2 0.2,-1.1 0.3,-0.2 0.4,0.7 0.5,-1.7 0.6,-0.4 0.7,-2.5 0.8,0.3 0.9,-1 1,1 1.1,-0.5 1.2,-1.4 1.3,0.4 1.4,-0.2 1.5,0.5 1.6,-1 1.7,0.1 1.8,-0.5 1.9,-1.8 2,0.1 2.1,0.6 -2,2.3 -1.4,2.3 -0.9,1.7 -0.8,1.8 -0.4,1.4 -0.8,-2.7 -0.8,-3 0.4,-1.7 0.5,-2.5 2.4,1.5 3.4,0.5 4,-2.2 4.5,-3.1 4.4,-1.1 -2.8,0.8 -2.5,0.9 -0.3,0.7 1,0.5 1.3,-0.7 -1.7,1.7 -2.1,1.6"
];

// ---------- rendering ----------
const NS="http://www.w3.org/2000/svg";
const svg=document.getElementById('fig');
function mk(tag,attrs,parent){const e=document.createElementNS(NS,tag);for(const k in attrs)e.setAttribute(k,attrs[k]);(parent||svg).appendChild(e);return e;}
function fmt(v,dec){let s=dec?v.toFixed(1):String(v);return s.replace('-','\u2212');}

function drawPanel(p){
  const g=mk('g',{});
  
  
  const [L,T,R,B]=p.box;
  const xs=v=>p.xa[1]+(v-p.xa[0])*(p.xb[1]-p.xa[1])/(p.xb[0]-p.xa[0]);
  const ys=v=>p.ya[1]+(v-p.ya[0])*(p.yb[1]-p.ya[1])/(p.yb[0]-p.ya[0]);
  const clip=mk('clipPath',{id:'clip'+p.id},g);
  mk('rect',{x:L,y:T,width:R-L,height:B-T},clip);
  const pg=mk('g',{'clip-path':'url(#clip'+p.id+')'},g);
  
  
  p.points.forEach((str,ci)=>{
    str.trim().split(/\s+/).forEach(pair=>{
      const [x,y]=pair.split(',').map(Number);
      const c=mk('circle',{cx:xs(x).toFixed(1),cy:ys(y).toFixed(1),r:p.r,fill:p.colors[ci]},pg);
      
      
    });
  });
  const frame=mk('rect',{x:L,y:T,width:R-L,height:B-T,fill:'none',stroke:'#000','stroke-width':2.2},g);
  
  
  p.xt.forEach(v=>{
    const x=xs(v);
    const t=mk('line',{x1:x,y1:B,x2:x,y2:B+10,stroke:'#000','stroke-width':2.2},g);
    
    
    const tx=mk('text',{x:x,y:B+46,'text-anchor':'middle','font-size':30,fill:'#000'},g);
    tx.textContent=fmt(v,p.xdec);
    
    
  });
  p.yt.forEach(v=>{
    const y=ys(v);
    const t=mk('line',{x1:L-10,y1:y,x2:L,y2:y,stroke:'#000','stroke-width':2.2},g);
    
    
    const tx=mk('text',{x:L-17,y:y+11,'text-anchor':'end','font-size':30,fill:'#000'},g);
    tx.textContent=fmt(v,p.ydec);
    
    
  });
  const [lx,ly,lr,lb]=p.leg;
  const lg=mk('g',{},g);
  
  
  mk('rect',{x:lx,y:ly,width:lr-lx,height:lb-ly,rx:6,fill:'rgba(255,255,255,0.8)',stroke:'#cccccc','stroke-width':2},lg);
  const n=p.colors.length, sp=(lb-ly-8)/n, w=lr-lx;
  p.colors.forEach((col,i)=>{
    const cy=ly+4+sp*(i+0.5);
    const m=mk('circle',{cx:lx+0.28*w,cy:cy,r:p.r,fill:col},lg);
    
    
    const t=mk('text',{x:lx+0.64*w,y:cy+11,'font-size':31,fill:'#000'},lg);
    t.textContent=String(i);
    
    
  });
  const cap=mk('text',{x:p.cap[0],y:p.cap[1],'text-anchor':'middle','class':'cap',fill:'#000'},g);
  cap.textContent='('+p.id+')';
  
  
}

drawPanel({id:'a',box:[97,18,1535,1070],xa:[-15,216],xb:[15,1466],ya:[10,111],yb:[-20,954],xt:aXTicks,yt:aYTicks,points:aPoints,colors:colors12,r:12,leg:[112,517,255,1054],cap:[768,1228]});
drawPanel({id:'b',box:[1732,18,3173,1070],xa:[-15,1856],xb:[15,3107],ya:[10,110],yb:[-20,994],xt:bXTicks,yt:bYTicks,points:bPoints,colors:colors12,r:12,leg:[1747,516,1891,1055],cap:[2405,1228]});
drawPanel({id:'c',box:[97,1379,1535,2431],xa:[-10,408],xb:[20,1361],ya:[10,1485],yb:[-15,2303],xt:cXTicks,yt:cYTicks,points:cPoints,colors:colors19,r:12,leg:[1376,1394,1520,2228],cap:[768,2595]});
drawPanel({id:'d',box:[1732,1366,3173,2434],xa:[-15,1779],xb:[20,3152],ya:[10,1504],yb:[-20,2422],xt:dXTicks,yt:dYTicks,points:dPoints,colors:colors19,r:12,leg:[3001,1383,3157,2309],cap:[2405,2595]});
drawPanel({id:'e',box:[105,2743,1538,3813],xa:[-10,183],xb:[5,1351],ya:[10,2788],yb:[-15,3699],xt:eXTicks,yt:eYTicks,points:ePoints,colors:colors8,r:11,leg:[122,3400,257,3794],cap:[768,3982],xdec:true,ydec:false});
drawPanel({id:'f',box:[1763,2761,3173,3821],xa:[-12.5,1801],xb:[7.5,3096],ya:[7.5,2850],yb:[-10,3778],xt:fXTicks,yt:fYTicks,points:fPoints,colors:colors8,r:11,leg:[1778,2778,1911,3171],cap:[2405,3982],xdec:true,ydec:true});
</script>
</body></html>
